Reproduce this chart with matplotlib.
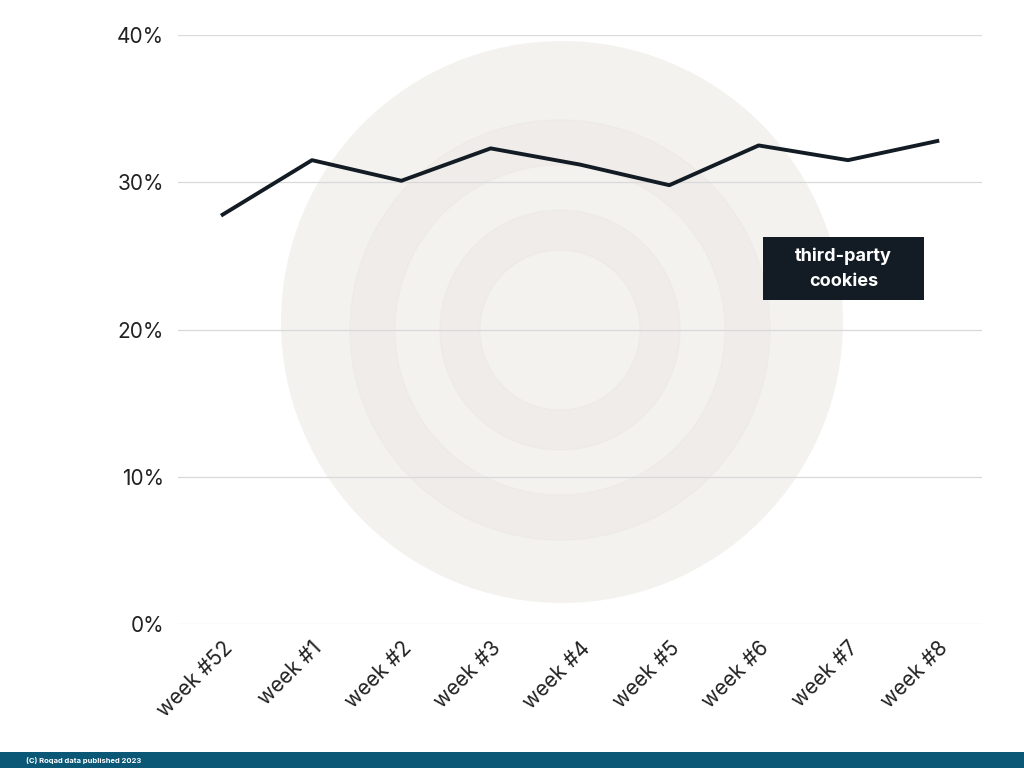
import matplotlib
matplotlib.use("Agg")
import matplotlib.pyplot as plt
from matplotlib.patches import Circle, Rectangle, Wedge

weeks = ["week #52", "week #1", "week #2", "week #3", "week #4", "week #5", "week #6", "week #7", "week #8"]
values = [27.8, 31.5, 30.1, 32.3, 31.2, 29.8, 32.5, 31.5, 32.8]
yticks = [0, 10, 20, 30, 40]
series_label = "third-party\ncookies"

plt.rcParams["font.family"] = "Inter"
fig = plt.figure(figsize=(10.24, 7.68), dpi=100)

bg = fig.add_axes([0, 0, 1, 1], zorder=0)
bg.set_xlim(0, 1024); bg.set_ylim(768, 0); bg.axis("off")
bg.add_patch(Circle((562, 322), 281, color="#f4f2ef", lw=0))
bg.add_patch(Wedge((560, 330), 210, 0, 360, width=45, color="#ebe8e4", alpha=0.5))
bg.add_patch(Wedge((560, 330), 120, 0, 360, width=40, color="#ebe8e4", alpha=0.5))

ax = fig.add_axes([178/1024, 1-624/768, (982-178)/1024, (624-35)/768], zorder=1)
ax.patch.set_alpha(0)
x = list(range(len(weeks)))
ax.plot(x, values, color="#131c24", lw=2.8, zorder=3)
ax.set_xlim(-0.5, len(weeks) - 0.5)
ax.set_ylim(0, 40)
ax.set_yticks(yticks)
ax.set_yticklabels([f"{v}%" for v in yticks], fontsize=15, color="#222")
ax.set_xticks(x)
ax.set_xticklabels(weeks, rotation=45, ha="right", rotation_mode="anchor", fontsize=15, color="#222")
ax.grid(axis="y", color="#d9d9d9", lw=0.9)
for s in ax.spines.values():
    s.set_visible(False)
ax.tick_params(length=0, pad=10)

top = fig.add_axes([0, 0, 1, 1], zorder=2)
top.set_xlim(0, 1024); top.set_ylim(768, 0); top.axis("off")
top.patch.set_alpha(0)
top.add_patch(Rectangle((763, 237), 161, 63, color="#131c24", lw=0))
top.text(843.5, 268.5, series_label, ha="center", va="center", fontsize=13, fontweight="bold",
         color="white", linespacing=1.6)
top.add_patch(Rectangle((0, 752), 1024, 16, color="#0b5876", lw=0))
top.text(26, 760, "(C) Roqad data published 2023", fontsize=5.5, fontweight="bold",
         color="white", va="center")
fig.savefig("out.png", dpi=100)
